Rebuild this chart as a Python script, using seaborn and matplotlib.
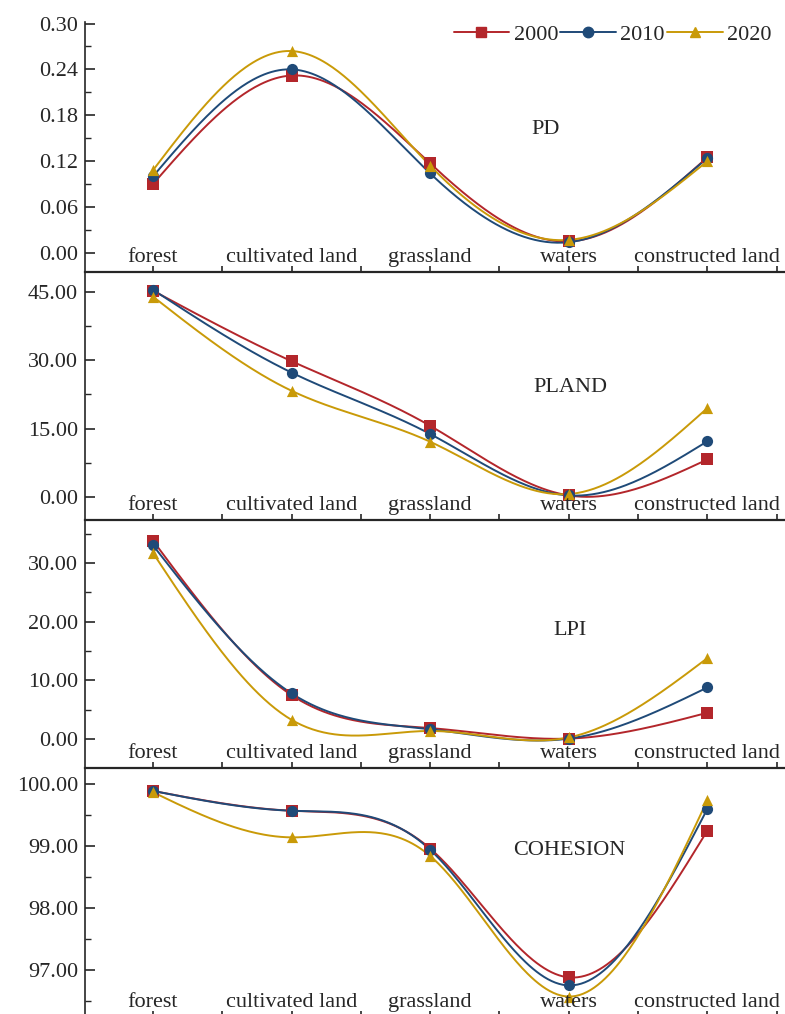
import numpy as np
import pandas as pd
import seaborn as sns
import matplotlib.pyplot as plt
from matplotlib.lines import Line2D
from matplotlib.ticker import MultipleLocator, FormatStrFormatter
import matplotlib.transforms as mtransforms

categories = ['forest', 'cultivated land', 'grassland', 'waters', 'constructed land']
years = ['2000', '2010', '2020']

# PD
pd_2000 = [0.090, 0.232, 0.117, 0.015, 0.125]
pd_2010 = [0.100, 0.240, 0.104, 0.014, 0.124]
pd_2020 = [0.108, 0.264, 0.114, 0.017, 0.120]
# PLAND
pland_2000 = [45.3, 29.8, 15.6, 0.3, 8.2]
pland_2010 = [45.5, 27.3, 13.8, 0.3, 12.2]
pland_2020 = [44.0, 23.3, 12.1, 0.6, 19.5]
# LPI
lpi_2000 = [33.8, 7.5, 1.9, 0.1, 4.5]
lpi_2010 = [33.0, 7.8, 1.7, 0.1, 8.8]
lpi_2020 = [31.7, 3.3, 1.4, 0.3, 13.8]
# COHESION
coh_2000 = [99.89, 99.57, 98.96, 96.88, 99.25]
coh_2010 = [99.89, 99.57, 98.94, 96.75, 99.60]
coh_2020 = [99.87, 99.14, 98.84, 96.57, 99.74]

colors = {'2000': '#B3262B', '2010': '#1F4A78', '2020': '#C99A08'}
markers = {'2000': 's', '2010': 'o', '2020': '^'}


def smooth(y, n=300):
    # natural cubic spline through the points (Origin-style smoothed line)
    x = np.arange(len(y), dtype=float)
    y = np.asarray(y, dtype=float)
    k = len(x)
    h = np.diff(x)
    A = np.zeros((k, k))
    r = np.zeros(k)
    A[0, 0] = A[-1, -1] = 1
    for i in range(1, k - 1):
        A[i, i - 1] = h[i - 1]
        A[i, i] = 2 * (h[i - 1] + h[i])
        A[i, i + 1] = h[i]
        r[i] = 3 * ((y[i + 1] - y[i]) / h[i] - (y[i] - y[i - 1]) / h[i - 1])
    c = np.linalg.solve(A, r)
    b = (y[1:] - y[:-1]) / h - h * (2 * c[:-1] + c[1:]) / 3
    d = (c[1:] - c[:-1]) / (3 * h)
    xs = np.linspace(x[0], x[-1], n)
    idx = np.clip(np.searchsorted(x, xs, side='right') - 1, 0, k - 2)
    dx = xs - x[idx]
    ys = y[idx] + b[idx] * dx + c[idx] * dx ** 2 + d[idx] * dx ** 3
    return xs, ys


panels = [
    ('PD', [pd_2000, pd_2010, pd_2020], (-0.025, 0.302), 0.06, 2.83, 0.57),
    ('PLAND', [pland_2000, pland_2010, pland_2020], (-5.1, 49.4), 15, 3.01, 0.535),
    ('LPI', [lpi_2000, lpi_2010, lpi_2020], (-4.9, 37.3), 10, 3.01, 0.555),
    ('COHESION', [coh_2000, coh_2010, coh_2020], (96.24, 100.26), 1, 3.0, 0.67),
]

sns.set_style('ticks')
plt.rcParams['font.family'] = ['Liberation Serif', 'DejaVu Serif']
plt.rcParams['font.size'] = 16

fig = plt.figure(figsize=(7.85, 10.14), dpi=100)
H = 1014.0
tops = [22, 272, 520, 768]
bots = [272, 520, 768, 1017]
left = 85 / 785.0
width = 700 / 785.0

for k, (name, series, ylim, major, tx, ty) in enumerate(panels):
    ax = fig.add_axes([left, 1 - bots[k] / H, width, (bots[k] - tops[k]) / H])
    curves = []
    points = []
    for yr, vals in zip(years, series):
        xs, ys = smooth(vals)
        curves.append(pd.DataFrame({'x': xs, 'y': ys, 'year': yr}))
        points.append(pd.DataFrame({'x': np.arange(len(vals)), 'y': vals, 'year': yr}))
    curve_df = pd.concat(curves, ignore_index=True)
    point_df = pd.concat(points, ignore_index=True)

    for yr in years:
        sns.lineplot(data=curve_df[curve_df['year'] == yr], x='x', y='y',
                     color=colors[yr], linewidth=1.4, sort=False,
                     estimator=None, ax=ax, legend=False)
        sns.scatterplot(data=point_df[point_df['year'] == yr], x='x', y='y',
                        color=colors[yr], marker=markers[yr], s=65,
                        linewidth=0, ax=ax, legend=False, zorder=3)

    ax.set_xlim(-0.49, 4.56)
    ax.set_ylim(*ylim)
    ax.set_xlabel('')
    ax.set_ylabel('')
    ax.xaxis.set_major_locator(MultipleLocator(1))
    ax.xaxis.set_minor_locator(MultipleLocator(0.5))
    ax.yaxis.set_major_locator(MultipleLocator(major))
    ax.yaxis.set_minor_locator(MultipleLocator(major / 2))
    ax.yaxis.set_major_formatter(FormatStrFormatter('%.2f'))
    ax.tick_params(axis='x', which='both', direction='in', length=4,
                   width=1.2, labelbottom=False)
    ax.tick_params(axis='y', which='major', direction='in', length=7,
                   width=1.2, pad=5, labelsize=16)
    ax.tick_params(axis='y', which='minor', direction='in', length=4, width=1.0)
    sns.despine(ax=ax, top=True, right=True)
    ax.spines['left'].set_linewidth(1.2)
    ax.spines['bottom'].set_linewidth(1.6)
    ax.patch.set_alpha(0)

    trans = mtransforms.blended_transform_factory(ax.transData, ax.transAxes)
    for i, cat in enumerate(categories):
        ax.text(i, 0.058, cat, transform=trans, ha='center', va='center',
                fontsize=16)
    ax.text(tx, ty, name, transform=trans, ha='center', va='center', fontsize=16)

    if k == 0:
        handles = [Line2D([], [], color=colors[yr], marker=markers[yr],
                          markersize=7.5, linewidth=1.4) for yr in years]
        ax.legend(handles, years, loc='center right', ncol=3, frameon=False,
                  bbox_to_anchor=(1.0, 0.948), handlelength=2.5,
                  handletextpad=0.2, columnspacing=0.1, borderaxespad=0.2,
                  fontsize=16)

fig.savefig('out.png', dpi=100)
